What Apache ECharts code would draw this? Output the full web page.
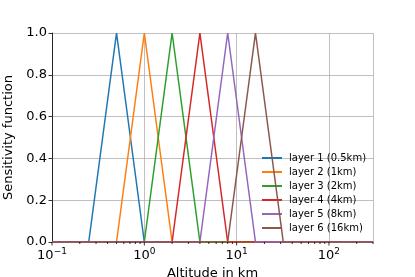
<!DOCTYPE html>
<html><head><meta charset="utf-8">
<script src="https://cdn.jsdelivr.net/npm/echarts@6/dist/echarts.min.js"></script>
<style>html,body{margin:0;padding:0;background:#fff}#c{width:415px;height:277px}</style>
</head><body><div id="c"></div>
<script>
const layerNames = ['layer 1 (0.5km)','layer 2 (1km)','layer 3 (2km)','layer 4 (4km)','layer 5 (8km)','layer 6 (16km)'];
const layer1x = [0.1, 0.25, 0.5, 1, 300];
const layer2x = [0.1, 0.5, 1, 2, 300];
const layer3x = [0.1, 1, 2, 4, 300];
const layer4x = [0.1, 2, 4, 8, 300];
const layer5x = [0.1, 4, 8, 16, 300];
const layer6x = [0.1, 8, 16, 32, 300];
const sensitivity = [0, 0, 1, 0, 0];
const colors = ['#1f77b4','#ff7f0e','#2ca02c','#d62728','#9467bd','#8c564b'];
const minorTicks = [];
[0.1,1,10,100].forEach(d=>{for(let k=2;k<=9;k++){const v=d*k; if(v<=300) minorTicks.push(v);}});
const majorTicks = [0.1,1,10,100];
const xs = [layer1x,layer2x,layer3x,layer4x,layer5x,layer6x];
const font = 'DejaVu Sans';
const series = xs.map((x,i)=>({
  name: layerNames[i], type:'line', showSymbol:false, symbol:'none',
  data: x.map((v,j)=>[v, sensitivity[j]]),
  lineStyle:{width:1.5,color:colors[i]}, itemStyle:{color:colors[i]}, z:3+i
}));
series.push({
  type:'custom', silent:true, z:10, clip:false,
  data: minorTicks.map(v=>[v,0,2]).concat(majorTicks.map(v=>[v,0,3.5])),
  renderItem:(params,api)=>{
    const p = api.coord([api.value(0),0]);
    const len = api.value(2);
    return {type:'line', shape:{x1:p[0],y1:p[1],x2:p[0],y2:p[1]+len}, style:{stroke:'#000',lineWidth:0.8}};
  }
});
const chart = echarts.init(document.getElementById('c'));
const sup = {b:{fontSize:13,fontFamily:font,color:'#000'}, s:{fontSize:9,fontFamily:font,color:'#000',padding:[0,0,9,0]}};
chart.setOption({
  animation:false,
  grid:{left:52,right:42,top:33,bottom:35,outerBoundsMode:'none',containLabel:false},
  xAxis:{type:'log', logBase:10, min:0.1, max:300,
    name:'Altitude in km', nameLocation:'middle', nameGap:18,
    nameTextStyle:{fontSize:13,fontFamily:font,color:'#000'},
    axisLine:{lineStyle:{color:'#000',width:0.8}},
    axisTick:{show:false},
    splitLine:{show:true,lineStyle:{color:'#b0b0b0',width:0.8}},
    axisLabel:{margin:5, showMaxLabel:false, rich:sup,
      formatter:v=>{const e=Math.round(Math.log10(v)); if(Math.abs(Math.log10(v)-e)>1e-6) return ''; return '{b|10}{s|'+String(e).replace('-','\u2212')+'}';}}
  },
  yAxis:{type:'value', min:0, max:1, interval:0.2,
    name:'Sensitivity function', nameLocation:'middle', nameGap:30,
    nameTextStyle:{fontSize:13,fontFamily:font,color:'#000'},
    axisLine:{show:true,lineStyle:{color:'#000',width:0.8}},
    axisTick:{show:true,length:3.5,lineStyle:{color:'#000',width:0.8}},
    splitLine:{show:true,lineStyle:{color:'#b0b0b0',width:0.8}},
    axisLabel:{fontSize:13,fontFamily:font,color:'#000',margin:5,formatter:v=>v.toFixed(1)}
  },
  legend:{orient:'vertical', left:257, top:148, itemGap:4, itemWidth:20, itemHeight:2, icon:'rect',
    data:layerNames,
    textStyle:{fontSize:10,fontFamily:font,color:'#000',padding:[0,0,0,2]}},
  series: series
});
</script></body></html>
